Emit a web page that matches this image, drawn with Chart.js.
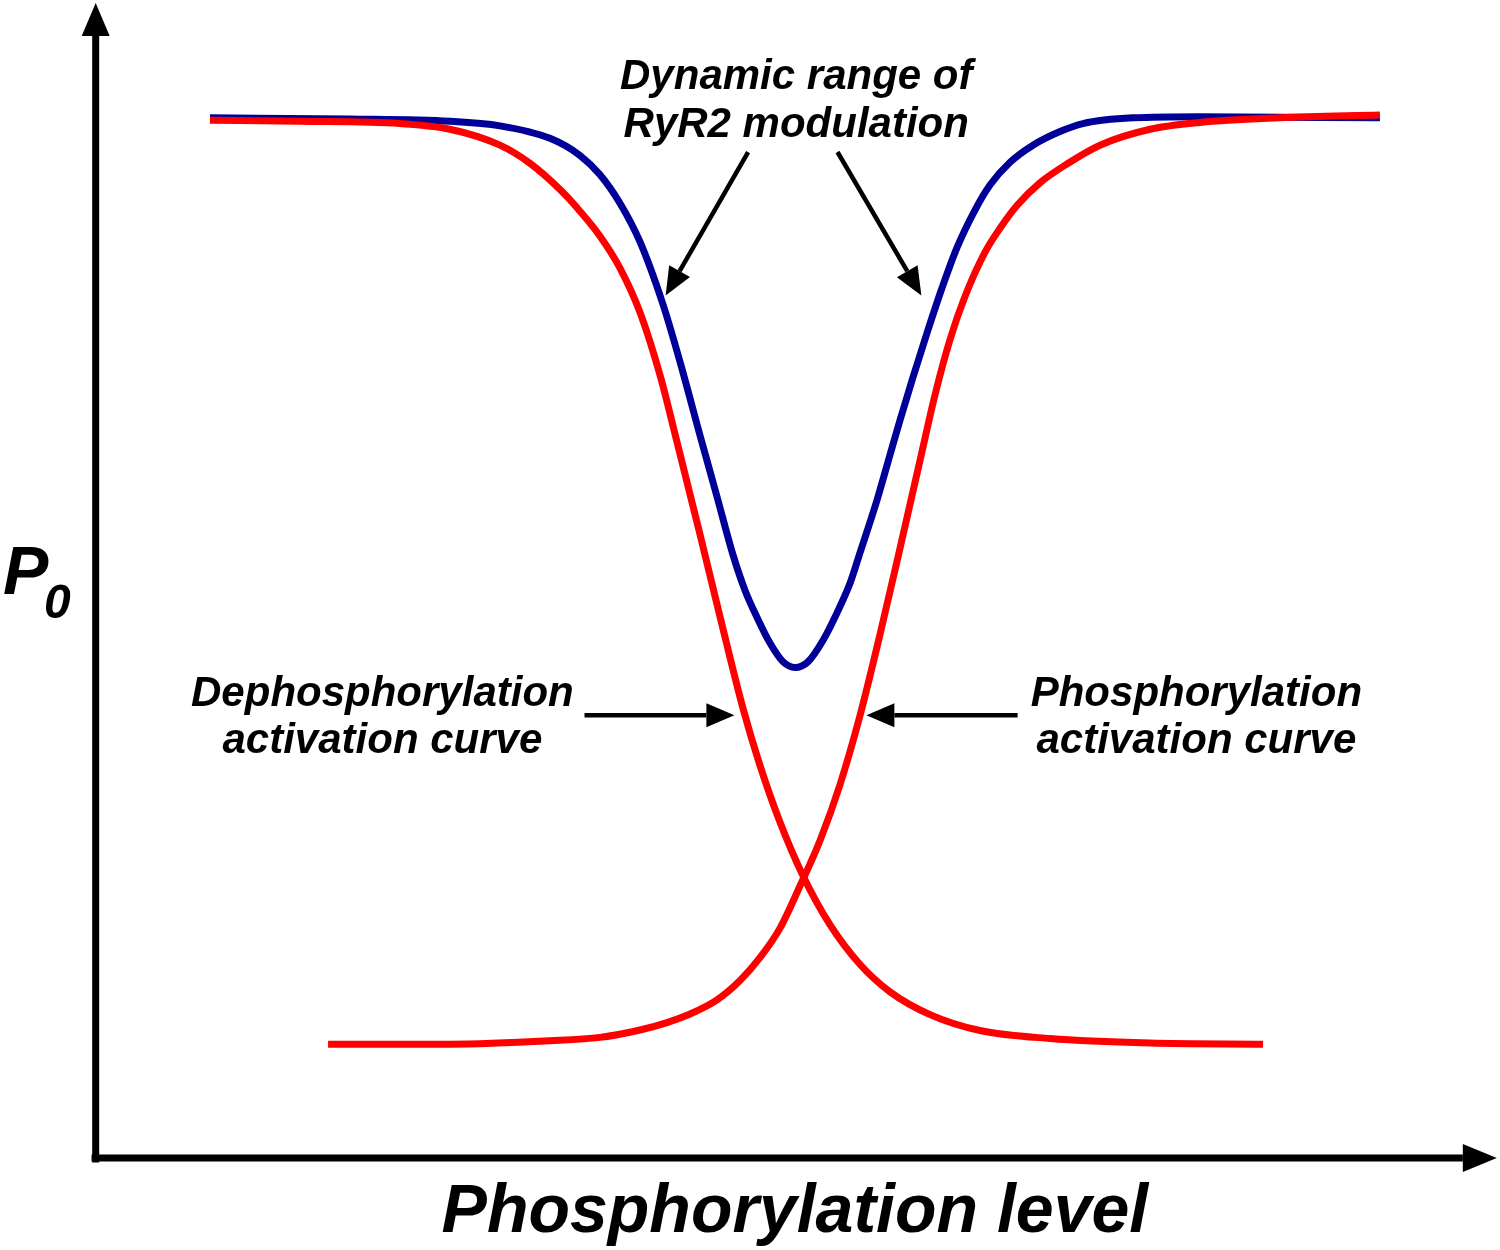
<!DOCTYPE html>
<html>
<head>
<meta charset="utf-8">
<script src="https://cdn.jsdelivr.net/npm/chart.js@4/dist/chart.umd.min.js"></script>
<style>
  body { margin: 0; background: #fff; }
  #wrap { width: 1500px; height: 1250px; }
</style>
</head>
<body>
<div id="wrap"><canvas id="curves" width="1500" height="1250"></canvas></div>
<script>
// x: phosphorylation level (0-100), y: P0 (0-1)
const dephosX = [8.36, 14.91, 22.18, 25.82, 29.45, 31.64, 33.82, 35.27, 36.73, 38.18, 39.64, 41.09, 42.33, 44.00, 45.45, 47.13, 48.36, 49.82, 51.49, 53.45, 55.64, 57.82, 60.73, 64.36, 69.45, 76.73, 84.95];
const dephosY = [0.912, 0.911, 0.909, 0.904, 0.890, 0.874, 0.851, 0.832, 0.810, 0.782, 0.743, 0.688, 0.629, 0.548, 0.476, 0.395, 0.345, 0.295, 0.248, 0.205, 0.170, 0.146, 0.126, 0.112, 0.105, 0.101, 0.100];

const phosX = [16.95, 25.82, 33.09, 36.73, 39.64, 41.60, 43.27, 45.24, 46.91, 48.36, 49.82, 51.27, 52.73, 54.18, 55.64, 57.09, 58.55, 60.00, 61.09, 62.18, 63.27, 64.73, 65.82, 67.05, 68.73, 70.69, 73.09, 76.73, 80.36, 86.18, 93.45];
const phosY = [0.100, 0.100, 0.103, 0.106, 0.1125, 0.119, 0.1265, 0.139, 0.156, 0.176, 0.202, 0.239, 0.279, 0.328, 0.389, 0.460, 0.536, 0.613, 0.6705, 0.719, 0.757, 0.796, 0.817, 0.837, 0.857, 0.8735, 0.890, 0.904, 0.910, 0.914, 0.9165];

const rangeX = [8.36, 18.55, 25.82, 29.45, 33.09, 35.27, 36.73, 38.18, 39.64, 41.31, 42.55, 44.00, 45.24, 46.40, 47.27, 48.15, 49.09, 50.04, 50.91, 51.85, 52.95, 53.96, 54.91, 55.64, 56.87, 57.82, 58.55, 59.49, 60.51, 61.60, 62.69, 64.00, 65.09, 66.55, 68.22, 70.18, 71.85, 75.49, 80.36, 93.45];
const rangeY = [0.914, 0.913, 0.911, 0.907, 0.896, 0.881, 0.864, 0.839, 0.805, 0.750, 0.6995, 0.635, 0.581, 0.530, 0.499, 0.475, 0.4525, 0.436, 0.431, 0.436, 0.455, 0.479, 0.505, 0.532, 0.578, 0.618, 0.6485, 0.686, 0.725, 0.7645, 0.800, 0.833, 0.855, 0.875, 0.890, 0.902, 0.909, 0.914, 0.915, 0.914];

// annotation labels and arrows (data units)
const labels = [
  { text: 'Dynamic range of', x: 51.0, y: 0.939 },
  { text: 'RyR2 modulation', x: 51.0, y: 0.897 },
  { text: 'Dephosphorylation', x: 20.9, y: 0.397 },
  { text: 'activation curve', x: 20.9, y: 0.356 },
  { text: 'Phosphorylation', x: 80.1, y: 0.397 },
  { text: 'activation curve', x: 80.1, y: 0.356 }
];
const arrows = [
  { x0: 47.5, y0: 0.884, x1: 41.5, y1: 0.758 },
  { x0: 54.0, y0: 0.884, x1: 60.1, y1: 0.758 },
  { x0: 35.6, y0: 0.389, x1: 46.5, y1: 0.389 },
  { x0: 67.1, y0: 0.389, x1: 56.1, y1: 0.389 }
];
const xTitle = 'Phosphorylation level';

const pts = (xs, ys) => xs.map((x, i) => ({ x: x, y: ys[i] }));

function arrow(c, x0, y0, x1, y1, lw, len, half) {
  const a = Math.atan2(y1 - y0, x1 - x0);
  const bx = x1 - len * Math.cos(a), by = y1 - len * Math.sin(a);
  c.lineWidth = lw;
  c.beginPath();
  c.moveTo(x0, y0);
  c.lineTo(bx, by);
  c.stroke();
  c.beginPath();
  c.moveTo(x1, y1);
  c.lineTo(bx + half * Math.sin(a), by - half * Math.cos(a));
  c.lineTo(bx - half * Math.sin(a), by + half * Math.cos(a));
  c.closePath();
  c.fill();
}

const decor = {
  id: 'decor',
  afterDatasetsDraw(chart) {
    const c = chart.ctx;
    const xs = chart.scales.x, ys = chart.scales.y;
    const X = v => xs.getPixelForValue(v), Y = v => ys.getPixelForValue(v);
    c.save();
    c.fillStyle = '#000';
    c.strokeStyle = '#000';
    c.lineCap = 'butt';

    // axes with arrowheads
    arrow(c, X(0.05), Y(-0.004), X(0.05), Y(1.015), 7, 33, 14);
    arrow(c, X(-0.25), Y(0), X(101.95), Y(0), 7, 34, 14);

    arrows.forEach(a => arrow(c, X(a.x0), Y(a.y0), X(a.x1), Y(a.y1), 4.5, 28, 12));

    c.textAlign = 'center';
    c.textBaseline = 'alphabetic';
    c.font = 'bold italic 42px "Liberation Sans", Arial, sans-serif';
    labels.forEach(l => c.fillText(l.text, X(l.x), Y(l.y)));

    c.font = 'bold italic 68px "Liberation Sans", Arial, sans-serif';
    c.fillText(xTitle, X(50.9), Y(-0.065));

    c.textAlign = 'left';
    c.fillText('P', X(-6.69), Y(0.496));
    c.font = 'bold italic 48px "Liberation Sans", Arial, sans-serif';
    c.fillText('0', X(-3.71), Y(0.4745));
    c.restore();
  }
};

new Chart(document.getElementById('curves').getContext('2d'), {
  type: 'line',
  data: {
    datasets: [
      { label: 'Dynamic range', data: pts(rangeX, rangeY), borderColor: '#000099', borderWidth: 7, order: 2 },
      { label: 'Dephosphorylation', data: pts(dephosX, dephosY), borderColor: '#ff0000', borderWidth: 7, order: 1 },
      { label: 'Phosphorylation', data: pts(phosX, phosY), borderColor: '#ff0000', borderWidth: 7, order: 1 }
    ]
  },
  options: {
    responsive: false,
    animation: false,
    events: [],
    layout: { padding: { left: 95, right: 30, top: 20, bottom: 92 } },
    elements: {
      point: { radius: 0 },
      line: { cubicInterpolationMode: 'monotone', fill: false }
    },
    plugins: { legend: { display: false }, tooltip: { enabled: false } },
    scales: {
      x: { type: 'linear', min: 0, max: 100, display: false },
      y: { type: 'linear', min: 0, max: 1, display: false }
    }
  },
  plugins: [decor]
});
</script>
</body>
</html>
